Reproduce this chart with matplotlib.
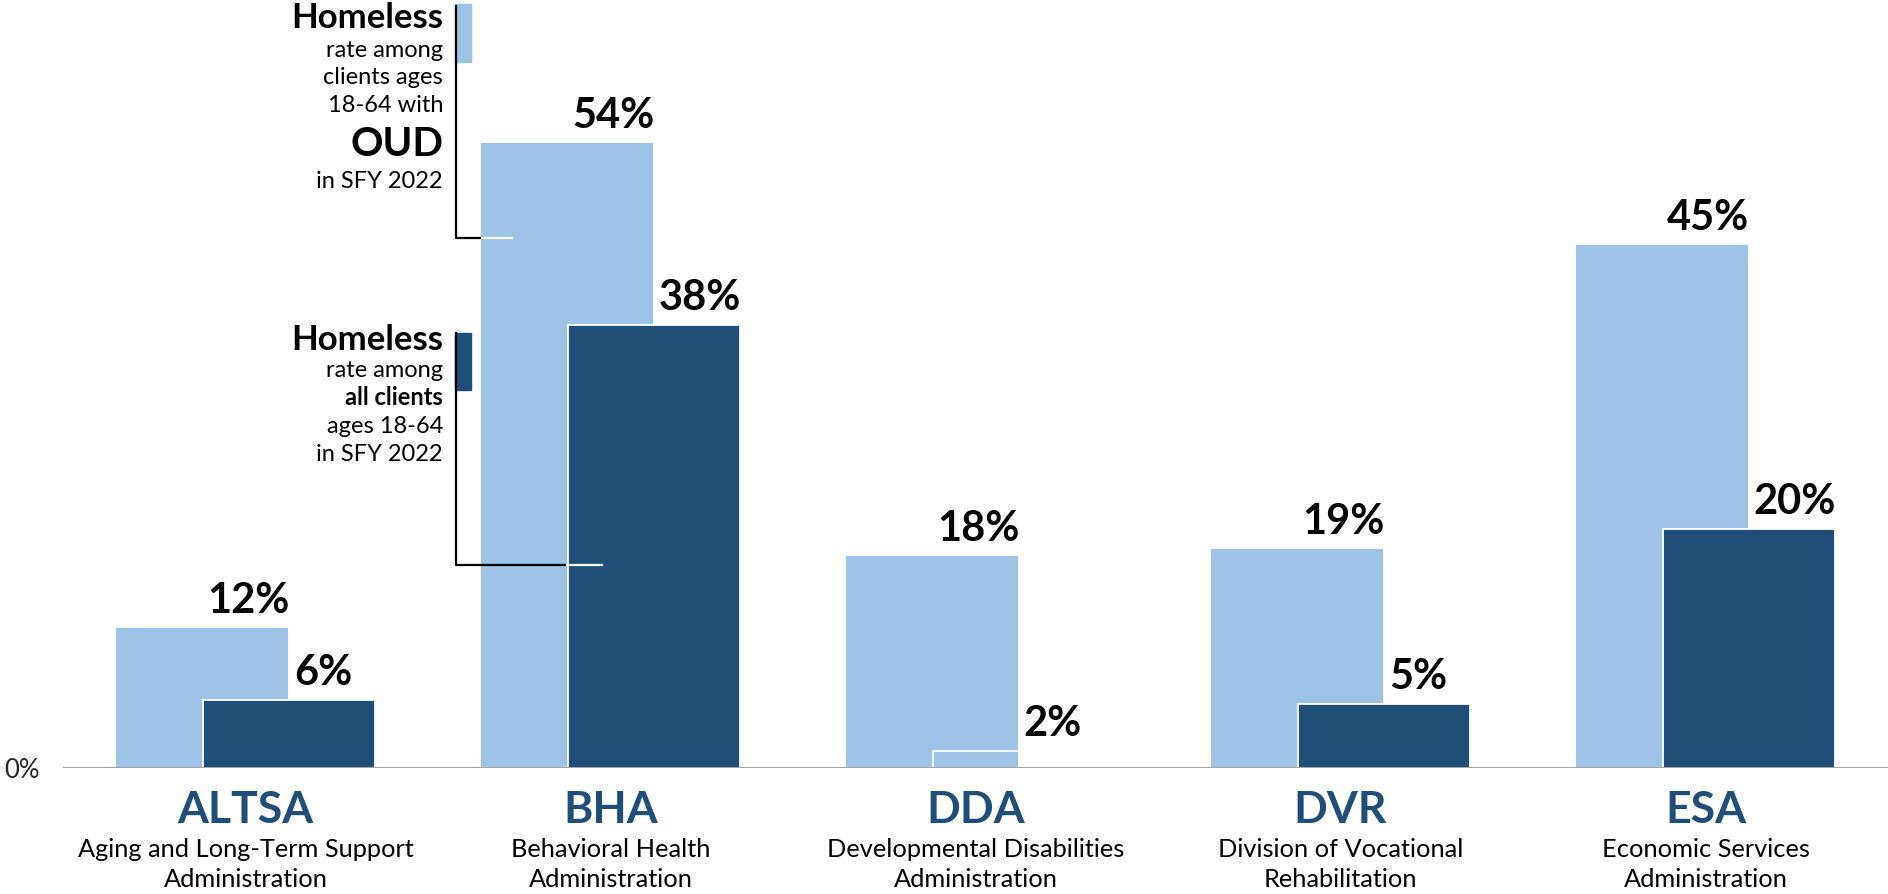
import numpy as np
import matplotlib.pyplot as plt
from matplotlib.lines import Line2D
from matplotlib.patches import Rectangle
from matplotlib.transforms import blended_transform_factory

plt.rcParams['font.family'] = ['Lato', 'DejaVu Sans']

# ── Data ──────────────────────────────────────────────────────────────────────
AGENCIES = ["ALTSA", "BHA", "DDA", "DVR", "ESA"]
AGENCY_NAMES = [
    ("Aging and Long-Term Support", "Administration"),
    ("Behavioral Health", "Administration"),
    ("Developmental Disabilities", "Administration"),
    ("Division of Vocational", "Rehabilitation"),
    ("Economic Services", "Administration"),
]
OUD_RATE   = [12.1, 54.0, 18.3, 18.9, 45.2]   # % homeless, clients with OUD
OUD_LABELS = ["12%", "54%", "18%", "19%", "45%"]
ALL_RATE   = [5.9, 38.3, 1.5, 5.5, 20.7]      # % homeless, all clients
ALL_LABELS = ["6%", "38%", "2%", "5%", "20%"]

LIGHT = "#9DC3E6"
DARK  = "#1F4E79"
GRAY  = "#A6A6A6"

W, H = 1888, 894


def fx(px):
    return px / W


def fy(py):
    return 1 - py / H


fig = plt.figure(figsize=(W / 100, H / 100), dpi=100)
ax = fig.add_axes([fx(63), fy(768), 1 - fx(63), 768 / H])

x = np.arange(len(AGENCIES))
bw, off = 0.472, 0.1186

ax.bar(x - off, OUD_RATE, bw, color=LIGHT, zorder=2)
# the DDA bar shows no fill in the original, only its white outline
dark_fc = ["none" if a == "DDA" else DARK for a in AGENCIES]
ax.bar(x + off, ALL_RATE, bw, color=dark_fc, edgecolor="white", linewidth=1.3, zorder=3)

for xs, vals, labs in [(x - off, OUD_RATE, OUD_LABELS), (x + off, ALL_RATE, ALL_LABELS)]:
    for xi, v, s in zip(xs, vals, labs):
        ax.annotate(s, (xi, v), xytext=(3.6, 10.8), textcoords="offset points",
                    ha="left", va="baseline", fontsize=30, fontweight="bold", color="black")

ax.axhline(0, color=GRAY, lw=1.5, zorder=5)
ax.set_xlim(-0.5, 4.5)
ax.set_ylim(0, 66.4)
for sp in ax.spines.values():
    sp.set_visible(False)
ax.set_xticks([])
ax.set_yticks([0])
ax.set_yticklabels(["0%"], fontsize=18.5, color="#262626")
ax.tick_params(axis="y", length=0, pad=17)

# category labels under the axis
tr = blended_transform_factory(ax.transData, fig.transFigure)
for i, (abbr, (l1, l2)) in enumerate(zip(AGENCIES, AGENCY_NAMES)):
    ax.text(i, fy(823), abbr, transform=tr, ha="center", va="baseline",
            fontsize=32, fontweight="bold", color=DARK)
    ax.text(i, fy(857), l1, transform=tr, ha="center", va="baseline", fontsize=18.3)
    ax.text(i, fy(887), l2, transform=tr, ha="center", va="baseline", fontsize=18.3)

# ── hand-made legend with brackets ────────────────────────────────────────────
key1 = [("Homeless", 28, 25, "bold"), ("rate among", 57, 17, "normal"),
        ("clients ages", 84, 17, "normal"), ("18-64 with", 112, 17, "normal"),
        ("OUD", 156, 29, "bold"), ("in SFY 2022", 188, 17, "normal")]
key2 = [("Homeless", 350, 25, "bold"), ("rate among", 377, 17, "normal"),
        ("all clients", 405, 17, "bold"), ("ages 18-64", 433, 17, "normal"),
        ("in SFY 2022", 461, 17, "normal")]
for lines in (key1, key2):
    for txt, py, fs, fw in lines:
        fig.text(fx(443), fy(py), txt, ha="right", va="baseline", fontsize=fs, fontweight=fw)

for (top, bot, swatch_top, swatch_bot, color, x_end, x_white) in [
        (6, 238, 4, 62, LIGHT, 482, 512),
        (333, 565, 333, 390, DARK, 567, 602)]:
    fig.add_artist(Rectangle((fx(455), fy(swatch_bot)), fx(471) - fx(455),
                             fy(swatch_top) - fy(swatch_bot), color=color,
                             transform=fig.transFigure, zorder=4))
    fig.add_artist(Line2D([fx(456), fx(456), fx(x_end)], [fy(top), fy(bot), fy(bot)],
                          color="black", lw=1.6, transform=fig.transFigure, zorder=5))
    fig.add_artist(Line2D([fx(x_end), fx(x_white)], [fy(bot), fy(bot)],
                          color="white", lw=1.6, transform=fig.transFigure, zorder=5))

fig.savefig("out.png", dpi=100)
